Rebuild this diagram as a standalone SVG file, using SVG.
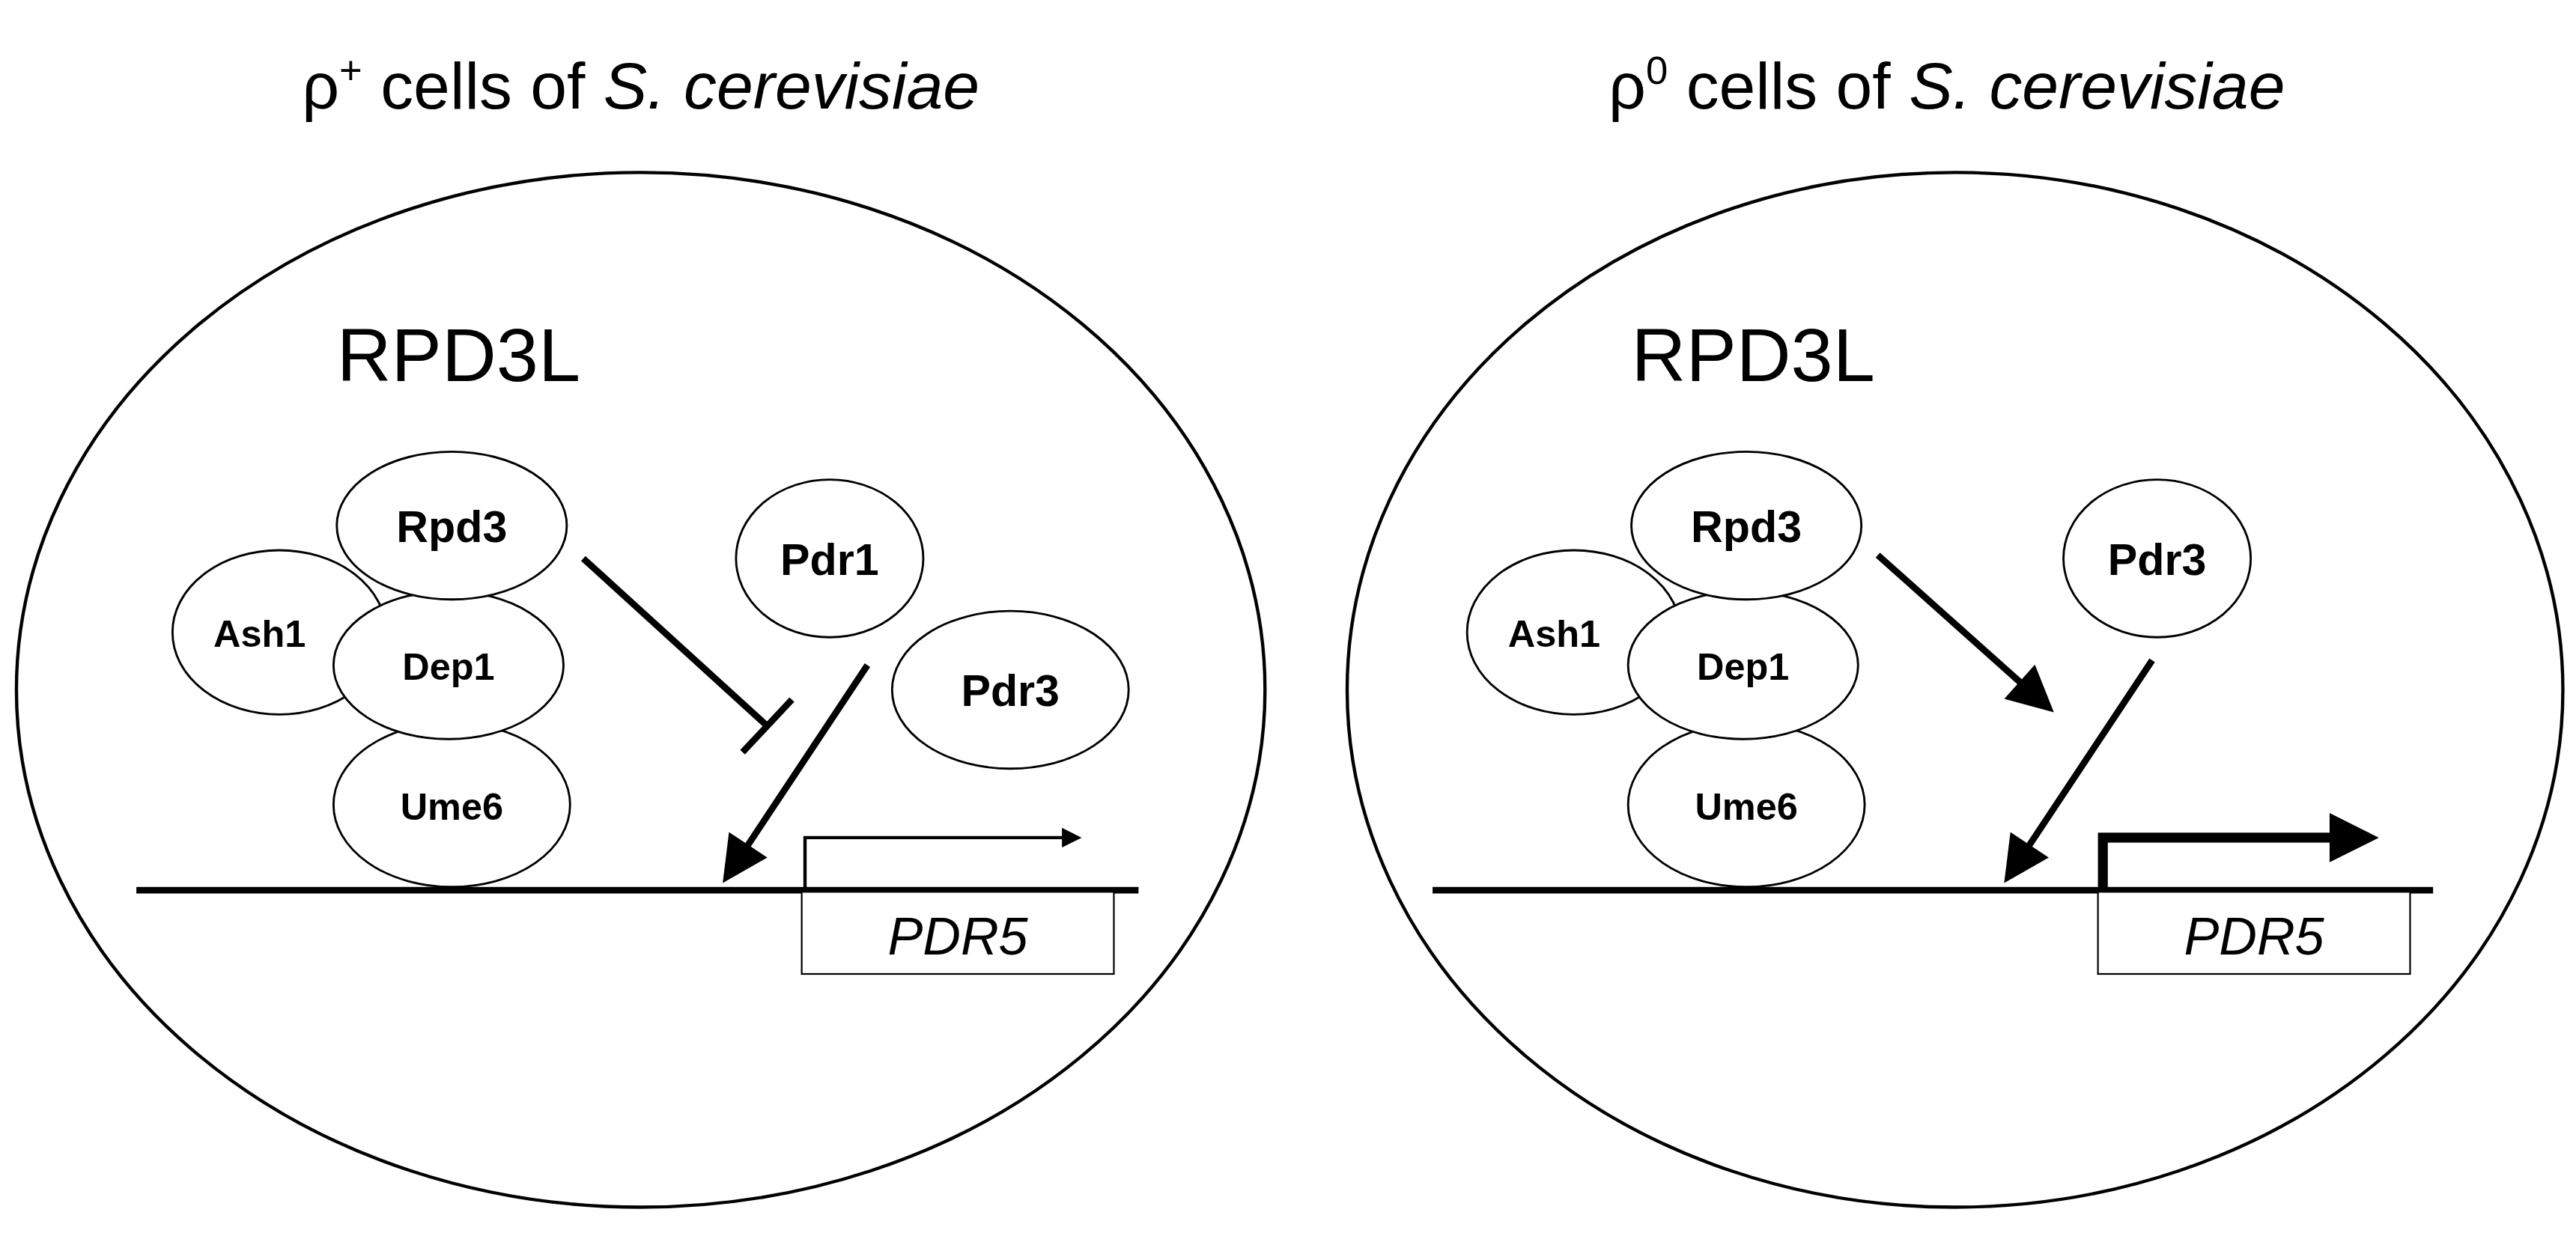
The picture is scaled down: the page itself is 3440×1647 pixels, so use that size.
<svg xmlns="http://www.w3.org/2000/svg" width="3440" height="1647" viewBox="0 0 3440 1647">
<style>
.cell{fill:none;stroke:#000;stroke-width:2}
.p{fill:#fff;stroke:#000;stroke-width:1.3}
.t{font-family:"Liberation Sans",Arial,sans-serif;fill:#000}
.pl{font-family:"Liberation Sans",Arial,sans-serif;font-weight:bold;font-size:23px;text-anchor:middle}
.pb{font-size:27px}
.ln{stroke:#000;stroke-width:4;fill:none}
</style>
<defs>
<marker id="ah" viewBox="0 0 10 10" refX="8" refY="5" markerWidth="9" markerHeight="7" orient="auto" markerUnits="strokeWidth"><path d="M0,0 L10,5 L0,10 z"/></marker>
<marker id="ahs" viewBox="0 0 10 10" refX="8" refY="5" markerWidth="7" markerHeight="6" orient="auto" markerUnits="strokeWidth"><path d="M0,0 L10,5 L0,10 z"/></marker>
<marker id="ahb" viewBox="0 0 10 10" refX="8" refY="5" markerWidth="6" markerHeight="5" orient="auto" markerUnits="strokeWidth"><path d="M0,0 L10,5 L0,10 z"/></marker>
</defs>
<rect width="3440" height="1647" fill="#fff"/>
<g transform="scale(2.1939)">
<g id="left">
<text class="t" x="390" y="66" font-size="40" text-anchor="middle">ρ<tspan font-size="24" dy="-15">+</tspan><tspan dy="15"> cells of </tspan><tspan font-style="italic">S. cerevisiae</tspan></text>
<ellipse class="cell" cx="390" cy="420" rx="380" ry="315"/>
<text class="t" x="205" y="232" font-size="46">RPD3L</text>
<g id="l-ash1"><ellipse class="p" cx="170" cy="385" rx="65" ry="50"/><text class="pl" x="158" y="394">Ash1</text></g>
<g id="l-ume6"><ellipse class="p" cx="275" cy="490" rx="72" ry="50"/><text class="pl" x="275" y="499">Ume6</text></g>
<g id="l-dep1"><ellipse class="p" cx="273" cy="405" rx="70" ry="45"/><text class="pl" x="273" y="414">Dep1</text></g>
<g id="l-rpd3"><ellipse class="p" cx="275" cy="320" rx="70" ry="45"/><text class="pl pb" x="275" y="330">Rpd3</text></g>
<g id="l-pdr1"><ellipse class="p" cx="505" cy="340" rx="57" ry="48"/><text class="pl pb" x="505" y="350">Pdr1</text></g>
<g id="l-pdr3"><ellipse class="p" cx="615" cy="420" rx="72" ry="48"/><text class="pl pb" x="615" y="430">Pdr3</text></g>
<g id="l-gene"><line class="ln" x1="83" y1="542" x2="693" y2="542"/><rect x="488" y="543" width="190" height="50" fill="#fff" stroke="#000" stroke-width="1"/><text class="t" x="583" y="581" font-size="32" font-style="italic" text-anchor="middle">PDR5</text></g>
</g>
<g id="right">
<text class="t" x="1185" y="66" font-size="40" text-anchor="middle">ρ<tspan font-size="24" dy="-15">0</tspan><tspan dy="15"> cells of </tspan><tspan font-style="italic">S. cerevisiae</tspan></text>
<ellipse class="cell" cx="1190" cy="420" rx="370" ry="315"/>
<text class="t" x="993" y="232" font-size="46">RPD3L</text>
<g id="r-ash1"><ellipse class="p" cx="958" cy="385" rx="65" ry="50"/><text class="pl" x="946" y="394">Ash1</text></g>
<g id="r-ume6"><ellipse class="p" cx="1063" cy="490" rx="72" ry="50"/><text class="pl" x="1063" y="499">Ume6</text></g>
<g id="r-dep1"><ellipse class="p" cx="1061" cy="405" rx="70" ry="45"/><text class="pl" x="1061" y="414">Dep1</text></g>
<g id="r-rpd3"><ellipse class="p" cx="1063" cy="320" rx="70" ry="45"/><text class="pl pb" x="1063" y="330">Rpd3</text></g>
<g id="r-pdr3"><ellipse class="p" cx="1313" cy="340" rx="57" ry="48"/><text class="pl pb" x="1313" y="350">Pdr3</text></g>
<g id="r-gene"><line class="ln" x1="872" y1="542" x2="1481" y2="542"/><rect x="1277" y="543" width="190" height="50" fill="#fff" stroke="#000" stroke-width="1"/><text class="t" x="1372" y="581" font-size="32" font-style="italic" text-anchor="middle">PDR5</text></g>
</g>
<g id="connectors">
<line class="ln" x1="355" y1="340" x2="467" y2="442"/>
<line class="ln" x1="452" y1="458" x2="482" y2="426"/>
<line class="ln" x1="528" y1="405" x2="443" y2="533" marker-end="url(#ah)"/>
<path d="M490,541 V510 H656" fill="none" stroke="#000" stroke-width="2" marker-end="url(#ahs)"/>
<line class="ln" x1="1143" y1="338" x2="1246" y2="430" marker-end="url(#ah)"/>
<line class="ln" x1="1310" y1="402" x2="1223" y2="533" marker-end="url(#ah)"/>
<path d="M1280,541 V510 H1442" fill="none" stroke="#000" stroke-width="6" marker-end="url(#ahb)"/>
</g>
</g>
</svg>
